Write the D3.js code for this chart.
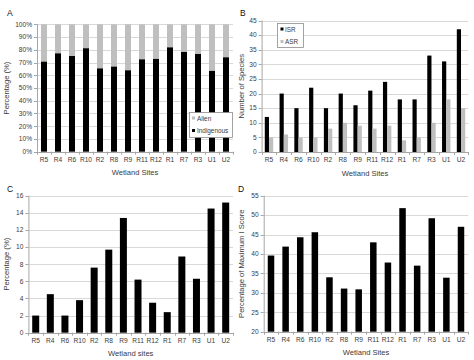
<!DOCTYPE html>
<html><head><meta charset="utf-8">
<script src="https://cdn.jsdelivr.net/npm/d3@7"></script>
<style>body{margin:0;background:#fff}svg{display:block;font-family:"Liberation Sans",Arial,sans-serif}</style>
</head><body><svg id="c" width="474" height="360"></svg>
<script>
const sites = ["R5","R4","R6","R10","R2","R8","R9","R11","R12","R1","R7","R3","U1","U2"];
const indigenousPct = [70.7,77.2,75.1,81.2,65.4,66.8,63.9,72.5,72.8,81.9,78.3,76.7,63.4,74.1];
const alienPct      = [29.3,22.8,24.9,18.8,34.6,33.2,36.1,27.5,27.2,18.1,21.7,23.3,36.6,25.9];
const isr = [12,20,15,22,15,20,16,21,24,18,18,33,31,42];
const asr = [5,6,5,5,8,10,9,8,9,4,5,10,18,15];
const alienSpeciesPct = [2.0,4.5,2.0,3.8,7.6,9.7,13.4,6.2,3.5,2.4,8.9,6.3,14.5,15.2];
const maxIScore = [39.6,41.9,44.3,45.6,34.0,31.1,30.9,43.0,37.8,51.8,37.0,49.2,33.9,47.0];
const ticksA = [0,10,20,30,40,50,60,70,80,90,100];
const ticksB = [0,5,10,15,20,25,30,35,40,45];
const ticksC = [0,2,4,6,8,10,12,14,16];
const ticksD = [20,25,30,35,40,45,50,55];

const svg = d3.select("#c");
const TXT = "#3a3a3a", GRID = "#d9d9d9", AX = "#a6a6a6";

function panel(o){
  const g = svg.append("g");
  const x = d3.scaleBand().domain(sites).range([o.x0,o.x1]).paddingInner(0).paddingOuter(0);
  const y = d3.scaleLinear().domain(o.dom).range([o.y0,o.y1]);
  // grid
  g.selectAll(".gr").data(o.ticks.slice(1)).join("line")
    .attr("x1",o.x0).attr("x2",o.x1).attr("y1",d=>Math.round(y(d))+0.5).attr("y2",d=>Math.round(y(d))+0.5)
    .attr("stroke",GRID).attr("stroke-width",1);
  // y axis line + ticks
  g.append("line").attr("x1",o.x0+0.5).attr("x2",o.x0+0.5).attr("y1",o.y1).attr("y2",o.y0).attr("stroke",AX);
  g.selectAll(".yt").data(o.ticks).join("line")
    .attr("x1",o.x0-3).attr("x2",o.x0).attr("y1",d=>Math.round(y(d))+0.5).attr("y2",d=>Math.round(y(d))+0.5).attr("stroke",AX);
  g.selectAll(".yl").data(o.ticks).join("text")
    .attr("x",o.x0-5).attr("y",d=>y(d)+2.3).attr("text-anchor","end")
    .attr("font-size",6.6).attr("fill",TXT).text(o.fmt||(d=>d));
  // bars
  o.draw(g,x,y);
  // x axis
  g.append("line").attr("x1",o.x0).attr("x2",o.x1).attr("y1",Math.round(o.y0)+0.5).attr("y2",Math.round(o.y0)+0.5).attr("stroke",AX);
  const bnds = sites.map(s=>x(s)).concat([o.x1]);
  g.selectAll(".xt").data(bnds).join("line")
    .attr("x1",d=>Math.round(d)+0.5).attr("x2",d=>Math.round(d)+0.5).attr("y1",o.y0).attr("y2",o.y0+3).attr("stroke",AX);
  g.selectAll(".xl").data(sites).join("text")
    .attr("x",d=>x(d)+x.bandwidth()/2).attr("y",o.y0+9.8).attr("text-anchor","middle")
    .attr("font-size",6.6).attr("fill",TXT).text(d=>d);
  g.append("text").attr("x",(o.x0+o.x1)/2).attr("y",o.y0+23.5).attr("text-anchor","middle")
    .attr("font-size",7.6).attr("fill",TXT).text(o.xt);
  g.append("text").attr("transform",`translate(${o.ytx},${(o.y0+o.y1)/2}) rotate(-90)`).attr("text-anchor","middle")
    .attr("font-size",7.6).attr("fill",TXT).text(o.yt);
  g.append("text").attr("x",o.lx).attr("y",o.ly).attr("font-size",8.5).attr("fill","#111").text(o.letter);
  return g;
}

function simpleBars(vals,w){
  return (g,x,y)=>{
    g.selectAll(".b").data(sites).join("rect")
      .attr("x",(d)=>x(d)+(x.bandwidth()-w)/2).attr("width",w)
      .attr("y",(d,i)=>y(vals[i])).attr("height",(d,i)=>y.range()[0]-y(vals[i])).attr("fill","#000");
  };
}

// A
const gA = panel({x0:37,x1:233,y0:151.7,y1:24.3,dom:[0,100],ticks:ticksA,fmt:d=>d+"%",
  xt:"Wetland Sites",yt:"Percentage (%)",ytx:9,letter:"A",lx:7,ly:16,
  draw:(g,x,y)=>{
    const w=6;
    g.selectAll(".a2").data(sites).join("rect").attr("x",d=>x(d)+(x.bandwidth()-w)/2).attr("width",w)
      .attr("y",(d,i)=>y(indigenousPct[i]+alienPct[i])).attr("height",(d,i)=>y(indigenousPct[i])-y(indigenousPct[i]+alienPct[i])).attr("fill","#bfbfbf");
    g.selectAll(".a1").data(sites).join("rect").attr("x",d=>x(d)+(x.bandwidth()-w)/2).attr("width",w)
      .attr("y",(d,i)=>y(indigenousPct[i])).attr("height",(d,i)=>y(0)-y(indigenousPct[i])).attr("fill","#000");
  }});
// legend A
gA.append("rect").attr("x",189.5).attr("y",112.5).attr("width",43).attr("height",25).attr("fill","#fff").attr("stroke","#8c8c8c").attr("stroke-width",0.8);
[["Alien","#bfbfbf",118.5],["Indigenous","#000",131]].forEach(([t,c,yy])=>{
  gA.append("rect").attr("x",192).attr("y",yy-2).attr("width",3).attr("height",3).attr("fill",c);
  gA.append("text").attr("x",197).attr("y",yy+2.2).attr("font-size",6.4).attr("fill",TXT).text(t);
});

// B
const gB = panel({x0:261.6,x1:468.4,y0:152,y1:20.5,dom:[0,45],ticks:ticksB,
  xt:"Wetland Sites",yt:"Number of Species",ytx:244,letter:"B",lx:240,ly:16,
  draw:(g,x,y)=>{
    const w=4.2;
    g.selectAll(".b1").data(sites).join("rect").attr("x",d=>x(d)+x.bandwidth()/2-w).attr("width",w)
      .attr("y",(d,i)=>y(isr[i])).attr("height",(d,i)=>y(0)-y(isr[i])).attr("fill","#000");
    g.selectAll(".b2").data(sites).join("rect").attr("x",d=>x(d)+x.bandwidth()/2).attr("width",w)
      .attr("y",(d,i)=>y(asr[i])).attr("height",(d,i)=>y(0)-y(asr[i])).attr("fill","#bfbfbf");
  }});
gB.append("rect").attr("x",277.5).attr("y",23.5).attr("width",26).attr("height",24).attr("fill","#fff").attr("stroke","#8c8c8c").attr("stroke-width",0.8);
[["ISR","#000",29.5],["ASR","#bfbfbf",42]].forEach(([t,c,yy])=>{
  gB.append("rect").attr("x",280.5).attr("y",yy-2).attr("width",3).attr("height",3).attr("fill",c);
  gB.append("text").attr("x",285).attr("y",yy+2.2).attr("font-size",6.4).attr("fill",TXT).text(t);
});

// C
panel({x0:28.4,x1:233,y0:332.7,y1:195.7,dom:[0,16],ticks:ticksC,
  xt:"Wetland sites",yt:"Percentage (%)",ytx:9,letter:"C",lx:7,ly:192,
  draw:simpleBars(alienSpeciesPct,7)});

// D
panel({x0:263.7,x1:468.3,y0:331.7,y1:195.7,dom:[20,55],ticks:ticksD,
  xt:"Wetland Sites",yt:"Percentage of Maximum I Score",ytx:244,letter:"D",lx:238,ly:192,
  draw:simpleBars(maxIScore,6.5)});
</script></body></html>
